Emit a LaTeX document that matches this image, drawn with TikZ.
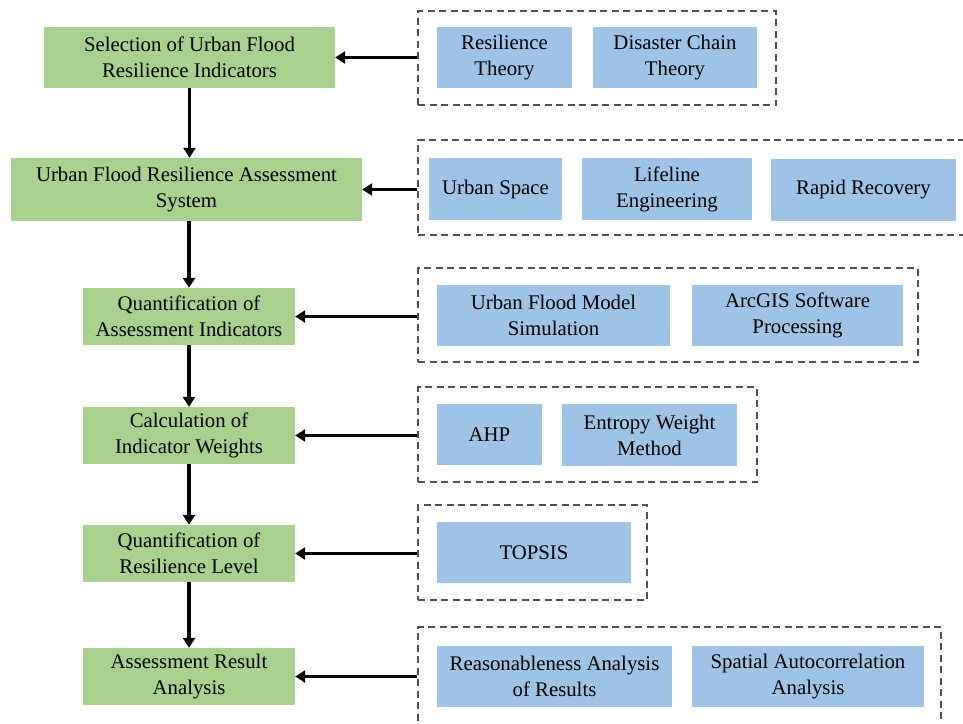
\documentclass[tikz,border=0pt]{standalone}
\usepackage{fontspec}
\setmainfont{Liberation Serif}
\usetikzlibrary{arrows.meta}
\definecolor{gfill}{HTML}{A9D18E}
\definecolor{bfill}{HTML}{9DC3E6}
\definecolor{dgray}{HTML}{505050}
\begin{document}
\begin{tikzpicture}[x=1pt,y=-1pt,
  txt/.style={align=center,inner sep=0pt,font=\fontsize{20.8}{26}\selectfont},
  gbox/.style={txt,fill=gfill},
  bbox/.style={txt,fill=bfill},
  dbox/.style={draw=dgray,line width=1.4pt,dash pattern=on 7pt off 4.5pt,inner sep=0pt},
  arr/.style={line width=3.2pt,-{Triangle[length=10pt,width=12pt]}}]
\useasboundingbox (0,0) rectangle (963,723);
% dashed groups
\node[dbox,minimum width=358pt,minimum height=94pt] (d1) at (597,58) {};
\node[dbox,minimum width=548pt,minimum height=95pt] (d2) at (692,187.5) {};
\node[dbox,minimum width=500pt,minimum height=94pt] (d3) at (668,315) {};
\node[dbox,minimum width=339pt,minimum height=95pt] (d4) at (587.5,434.5) {};
\node[dbox,minimum width=229pt,minimum height=95pt] (d5) at (532.5,552.5) {};
\node[dbox,minimum width=523pt,minimum height=98pt] (d6) at (679.5,676) {};
% green steps
\node[gbox,minimum width=291pt,minimum height=61pt] (g1) at (189.5,57.5) {Selection of Urban Flood\\Resilience Indicators};
\node[gbox,minimum width=351pt,minimum height=63pt] (g2) at (186.5,189.5) {Urban Flood Resilience Assessment\\System};
\node[gbox,minimum width=212pt,minimum height=57pt] (g3) at (189,316.5) {Quantification of\\Assessment Indicators};
\node[gbox,minimum width=212pt,minimum height=57pt] (g4) at (189,435.5) {Calculation of\\Indicator Weights};
\node[gbox,minimum width=212pt,minimum height=57pt] (g5) at (189,553.5) {Quantification of\\Resilience Level};
\node[gbox,minimum width=212pt,minimum height=57pt] (g6) at (189,676.5) {Assessment Result\\Analysis};
% blue items
\node[bbox,minimum width=135pt,minimum height=61pt] (b1a) at (504.5,57.5) {Resilience\\Theory};
\node[bbox,minimum width=164pt,minimum height=61pt] (b1b) at (675,57.5) {Disaster Chain\\Theory};
\node[bbox,minimum width=133pt,minimum height=62pt] (b2a) at (495.5,189) {Urban Space};
\node[bbox,minimum width=170pt,minimum height=62pt] (b2b) at (667,189) {Lifeline\\Engineering};
\node[bbox,minimum width=185pt,minimum height=62pt] (b2c) at (863.5,190) {Rapid Recovery};
\node[bbox,minimum width=233pt,minimum height=61pt] (b3a) at (553.5,315.5) {Urban Flood Model\\Simulation};
\node[bbox,minimum width=211pt,minimum height=61pt] (b3b) at (797.5,315.5) {ArcGIS Software\\Processing};
\node[bbox,minimum width=105pt,minimum height=61pt] (b4a) at (489.5,434.5) {AHP};
\node[bbox,minimum width=175pt,minimum height=62pt] (b4b) at (649.5,435) {Entropy Weight\\Method};
\node[bbox,minimum width=194pt,minimum height=61pt] (b5a) at (534,552.5) {TOPSIS};
\node[bbox,minimum width=235pt,minimum height=61pt] (b6a) at (554.5,676.5) {Reasonableness Analysis\\of Results};
\node[bbox,minimum width=232pt,minimum height=61pt] (b6b) at (808,676.5) {Spatial Autocorrelation\\Analysis};
% vertical flow
\draw[arr] (g1.south) -- (g1.south |- g2.north);
\draw[arr] (g3.north |- g2.south) -- (g3.north);
\draw[arr] (g3.south) -- (g4.north);
\draw[arr] (g4.south) -- (g5.north);
\draw[arr] (g5.south) -- (g6.north);
% horizontal inputs
\draw[arr] (g1.east -| d1.west) -- (g1.east);
\draw[arr] (g2.east -| d2.west) -- (g2.east);
\draw[arr] (g3.east -| d3.west) -- (g3.east);
\draw[arr] (g4.east -| d4.west) -- (g4.east);
\draw[arr] (g5.east -| d5.west) -- (g5.east);
\draw[arr] (g6.east -| d6.west) -- (g6.east);
\end{tikzpicture}
\end{document}
